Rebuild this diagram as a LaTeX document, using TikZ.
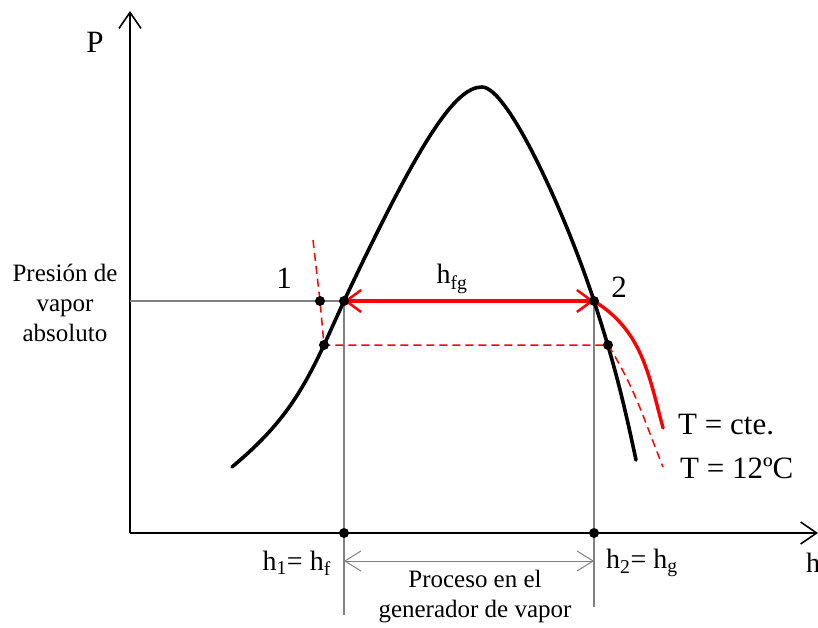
\documentclass[tikz,border=0pt]{standalone}
\usepackage{fontspec}
\setmainfont{Liberation Serif}
\usepackage{xcolor}
\usetikzlibrary{arrows.meta,positioning,calc}
\definecolor{Vapor}{HTML}{FF0000}
\definecolor{Guide}{HTML}{808080}

\begin{document}
\begin{tikzpicture}[x=1pt,y=-1pt,
axis/.style={line width=1.6pt,-{Straight Barb[length=16pt,width=22pt,line width=1.6pt]}},
dome/.style={line width=3.6pt,line cap=round},
iso/.style={draw=Vapor,line width=3.4pt},
iso12/.style={draw=Vapor,line width=1.5pt,dash pattern=on 8pt off 5pt},
guide/.style={draw=Guide,line width=1.4pt},
fg/.style={draw=Vapor,line width=4.6pt,{Straight Barb[length=15pt,width=22pt,line width=2.5pt]}-{Straight Barb[length=15pt,width=22pt,line width=2.5pt]}},
proc/.style={guide,line width=1pt,{Straight Barb[length=16pt,width=20pt]}-{Straight Barb[length=16pt,width=20pt]}},
dot/.style={circle,fill=black,inner sep=0pt,minimum size=10pt},
big/.style={font=\fontsize{31}{34}\selectfont,inner sep=0pt},
mid/.style={font=\fontsize{28}{30}\selectfont,inner sep=0pt},
small/.style={font=\fontsize{25}{30}\selectfont,inner sep=0pt,align=center}]
\useasboundingbox (0,0) rectangle (818,628);
% ejes
\coordinate (O) at (130,533);
\coordinate (Ptop) at (130,11);
\coordinate (Hend) at (818,533);
\draw[axis] (O)--(Ptop);
\draw[axis] (O)--(Hend);
\node[big] (lP) at (95,42) {P};
\node[mid,anchor=west] (lh) at (806,563) {h};
% puntos de estado
\coordinate (s1) at (320,301);
\coordinate (f) at (344,301);
\coordinate (g) at (594,301);
\coordinate (a) at (324,345);
\coordinate (b) at (608,345);
\coordinate (hf) at (344,533);
\coordinate (hg) at (594,533);
\coordinate (top) at (482,87);
% lineas guia
\draw[guide] (130,301)--(f);
\draw[guide] (f)--(344,615);
\draw[guide] (g)--(594,607);
% campana de saturacion
\draw[dome] (232,467) to[out=40,in=-115] (a) -- (f)
  .. controls (420,140) and (455,87) .. (top)
  .. controls (508,87) and (566,215) .. (g)
  to[out=-72,in=102] (636,460);
% isotermas
\draw[iso12] (313,240)--(s1)--(a)--(b) to[out=-58,in=112] (663,467);
\draw[iso,line cap=round] (g) to[out=-32,in=105] (663,428);
\draw[fg] (f)--(g);
\draw[proc] (344,561)--(594,561);
% marcas
\foreach \p in {s1,f,g,a,b,hf,hg} \node[dot] at (\p) {};
% textos
\node[big] (l1) at (284,278) {1};
\node[big] (l2) at (619,287) {2};
\node[mid] (lfg) at (452,279) {h\textsubscript{fg}};
\node[small] (lpres) at (65,303) {Presión de\\vapor\\absoluto};
\node[mid,anchor=east] (lh1) at (331,563) {h\textsubscript{1}= h\textsubscript{f}};
\node[mid,anchor=west] (lh2) at (606,563) {h\textsubscript{2}= h\textsubscript{g}};
\node[small] (lproc) at (475,597) {Proceso en el\\generador de vapor};
\node[big,anchor=west] (lcte) at (678,425) {T = cte.};
\node[big,anchor=west] (l12) at (680,468) {T = 12ºC};
\end{tikzpicture}
\end{document}
